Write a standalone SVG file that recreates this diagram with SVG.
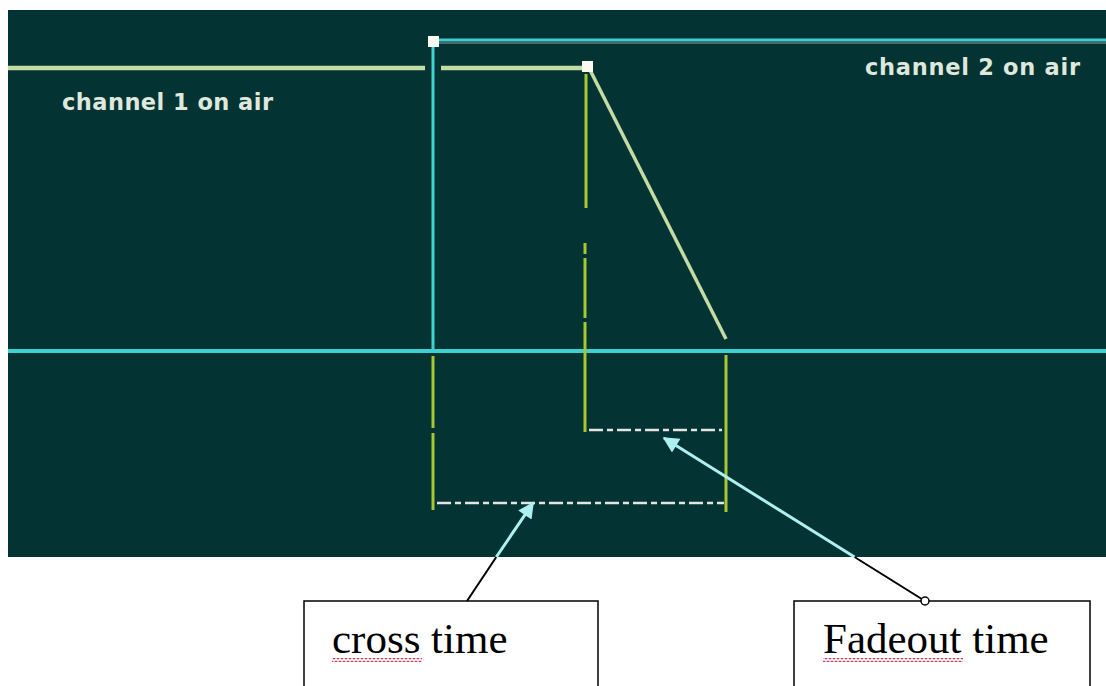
<svg xmlns="http://www.w3.org/2000/svg" width="1106" height="686" viewBox="0 0 1106 686">
<defs>
<style>
.lbl{font-family:"DejaVu Sans",sans-serif;font-weight:bold;font-size:22.5px;fill:#dfe8dc}
.box{fill:#fff;stroke:#000;stroke-width:1.5}
.btxt{font-family:"Liberation Serif",serif;font-size:43px;fill:#000}
.cy{stroke:#3fd0d0;fill:none}
.pg{stroke:#c4dca4;fill:none}
.yg{stroke:#a8c832;stroke-width:3;fill:none}
.dash{stroke:#e4e4e4;stroke-width:2.5;stroke-dasharray:14 4 6 4;fill:none}
.sq{fill:#fafaf0}
.wav{stroke:#c83a5a;stroke-width:1.3;fill:none}
</style>
<pattern id="squig" x="0" y="0" width="4" height="4" patternUnits="userSpaceOnUse">
<path d="M0,1 L2,3 L4,1" stroke="#c83a5a" stroke-width="1.1" fill="none"/>
</pattern>
<marker id="ah" viewBox="0 0 10 10" refX="9" refY="5" markerWidth="20" markerHeight="16" markerUnits="userSpaceOnUse" orient="auto">
<path d="M0,0 L10,5 L0,10 z" fill="#aef0f0"/>
</marker>
</defs>
<rect x="0" y="0" width="1106" height="686" fill="#fff"/>
<rect x="8" y="10" width="1098" height="547" fill="#033333"/>
<g id="signals">
<line x1="433" y1="43" x2="1106" y2="43" stroke="#4c6a6a" stroke-width="2"/>
<line class="cy" x1="433" y1="40" x2="1106" y2="40" stroke-width="3"/>
<line class="pg" x1="8" y1="68" x2="425" y2="68" stroke-width="4.5"/>
<line class="pg" x1="441" y1="68" x2="588" y2="68" stroke-width="4.5"/>
<line class="cy" x1="433" y1="42" x2="433" y2="350" stroke-width="3"/>
<line class="pg" x1="589" y1="68" x2="726" y2="339" stroke-width="3.5"/>
<line class="cy" x1="8" y1="351" x2="1106" y2="351" stroke-width="4"/>
</g>
<g id="guides">
<path class="yg" d="M586,74 V208 M585,243 V254 M585,258 V318 M585,322 V432"/>
<path class="yg" d="M433,356 V428 M433,433 V510"/>
<path class="yg" d="M726,355 V512"/>
<line class="dash" x1="589" y1="430" x2="722" y2="430"/>
<line class="dash" x1="437" y1="503" x2="724" y2="503"/>
</g>
<g id="markers">
<rect class="sq" x="428" y="36" width="11" height="11"/>
<rect class="sq" x="582" y="61" width="11" height="11"/>
</g>
<g id="ch1-label"><text class="lbl" x="62" y="110" textLength="211" lengthAdjust="spacing">channel 1 on air</text></g>
<g id="ch2-label"><text class="lbl" x="865" y="75" textLength="215" lengthAdjust="spacing">channel 2 on air</text></g>
<g id="cross-box">
<rect class="box" x="304" y="601" width="294" height="100"/>
<text class="btxt" x="332" y="653">cross time</text>
<rect x="332" y="658" width="90" height="4" fill="url(#squig)"/>
</g>
<g id="fade-box">
<rect class="box" x="794" y="601" width="296" height="100"/>
<text class="btxt" x="823" y="653">Fadeout time</text>
<rect x="823" y="658" width="140" height="4" fill="url(#squig)"/>
</g>
<g id="connectors">
<line x1="467" y1="601" x2="496.3" y2="557" stroke="#000" stroke-width="2"/>
<line x1="496.3" y1="557" x2="533" y2="503" stroke="#aef0f0" stroke-width="3" marker-end="url(#ah)"/>
<line x1="925" y1="601" x2="854.5" y2="557" stroke="#000" stroke-width="2"/>
<line x1="854.5" y1="557" x2="664" y2="438" stroke="#aef0f0" stroke-width="3" marker-end="url(#ah)"/>
<circle cx="925" cy="601" r="4" fill="#fff" stroke="#000" stroke-width="1.5"/>
</g>
</svg>
